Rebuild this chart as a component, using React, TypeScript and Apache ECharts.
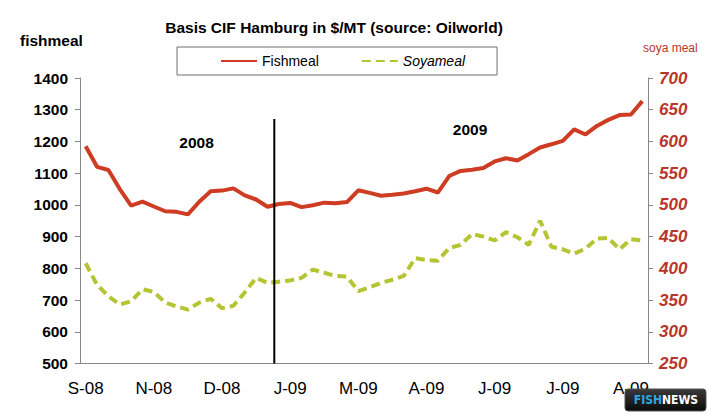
import React, { useEffect, useRef } from 'react';
import * as echarts from 'echarts';

const tickLabels = ['S-08', 'N-08', 'D-08', 'J-09', 'M-09', 'A-09', 'J-09', 'J-09', 'A-09'];

const fishmeal = [
  1185, 1120, 1110, 1050, 998, 1010, 995, 980, 978, 970,
  1010, 1043, 1045, 1052, 1030, 1017, 994, 1003, 1006, 993,
  999, 1007, 1005, 1009, 1046, 1038, 1029, 1032, 1036, 1043,
  1051, 1039, 1091, 1107, 1111, 1116, 1137, 1147, 1140, 1160,
  1181, 1191, 1202, 1238, 1222, 1249, 1268, 1283, 1285, 1327,
];

const soyameal = [
  408, 374, 356, 343, 348, 367, 363, 346, 340, 335,
  346, 352, 337, 341, 362, 385, 377, 379, 381, 385,
  398, 393, 388, 387, 364, 370, 377, 382, 388, 416,
  413, 412, 432, 437, 454, 450, 444, 457, 449, 437,
  475, 434, 430, 423, 431, 447, 448, 430, 446, 444,
];

const weeks = fishmeal.map((_, i) => `W${i + 1}`);
const TICK_EVERY = 6;

const RED = '#CD3C23';
const AXIS_RED = '#B8352A';
const GREEN = '#B4C432';
const FONT = '"Liberation Sans", Arial, sans-serif';

export default function App() {
  const ref = useRef<HTMLDivElement>(null);

  useEffect(() => {
    const chart = echarts.init(ref.current as HTMLDivElement, null, { renderer: 'svg' });
    chart.setOption({
      animation: false,
      backgroundColor: '#ffffff',
      textStyle: { fontFamily: FONT },
      legend: {
        left: 177,
        top: 47,
        orient: 'horizontal',
        borderColor: '#6e6e6e',
        borderWidth: 1,
        padding: [7, 32, 7, 43],
        itemWidth: 36,
        itemHeight: 14,
        itemGap: 42,
        itemStyle: { opacity: 0 },
        textStyle: { fontSize: 14, color: '#000', fontFamily: FONT },
        data: [
          { name: 'Fishmeal' },
          { name: 'Soyameal', textStyle: { fontStyle: 'italic' } },
        ],
      },
      grid: { left: 80, right: 61, top: 78, bottom: 55.5 },
      xAxis: {
        type: 'category',
        data: weeks,
        boundaryGap: true,
        axisLine: { lineStyle: { color: '#888' } },
        axisTick: { interval: TICK_EVERY - 1, length: 5, lineStyle: { color: '#888' } },
        axisLabel: {
          interval: TICK_EVERY - 1,
          margin: 16,
          fontSize: 17,
          color: '#000',
          fontFamily: FONT,
          formatter: (_v: string, i: number) => tickLabels[i / TICK_EVERY] ?? '',
        },
        splitLine: { show: false },
      },
      yAxis: [
        {
          type: 'value',
          min: 500,
          max: 1400,
          interval: 100,
          position: 'left',
          axisLine: { show: true, lineStyle: { color: '#888' } },
          axisTick: { show: true, length: 5, lineStyle: { color: '#888' } },
          axisLabel: {
            fontSize: 15.5,
            fontWeight: 'bold',
            color: '#000',
            margin: 12,
            fontFamily: FONT,
            formatter: (v: number) => String(v),
          },
          splitLine: { show: false },
        },
        {
          type: 'value',
          min: 250,
          max: 700,
          interval: 50,
          position: 'right',
          axisLine: { show: true, lineStyle: { color: '#888' } },
          axisTick: { show: true, length: 5, lineStyle: { color: '#888' } },
          axisLabel: {
            fontSize: 17,
            fontWeight: 'bold',
            fontStyle: 'italic',
            color: AXIS_RED,
            margin: 11,
            fontFamily: FONT,
            formatter: (v: number) => String(v),
          },
          splitLine: { show: false },
        },
      ],
      series: [
        {
          name: 'Fishmeal',
          type: 'line',
          data: fishmeal,
          yAxisIndex: 0,
          symbol: 'none',
          lineStyle: { color: RED, width: 4 },
          itemStyle: { color: RED },
          z: 3,
        },
        {
          name: 'Soyameal',
          type: 'line',
          data: soyameal,
          yAxisIndex: 1,
          symbol: 'none',
          lineStyle: { color: GREEN, width: 4, type: [9, 5] },
          itemStyle: { color: GREEN },
          z: 2,
        },
      ],
      graphic: [
        {
          type: 'text',
          x: 334,
          y: 27,
          style: {
            text: 'Basis CIF Hamburg in $/MT (source: Oilworld)',
            font: `bold 15.5px ${FONT}`,
            fill: '#000',
            textAlign: 'center',
            textVerticalAlign: 'middle',
          },
        },
        {
          type: 'text',
          x: 20,
          y: 40,
          style: {
            text: 'fishmeal',
            font: `bold 15.5px ${FONT}`,
            fill: '#000',
            textAlign: 'left',
            textVerticalAlign: 'middle',
          },
        },
        {
          type: 'text',
          x: 643,
          y: 48,
          style: {
            text: 'soya meal',
            font: `12px ${FONT}`,
            fill: AXIS_RED,
            textAlign: 'left',
            textVerticalAlign: 'middle',
          },
        },
        {
          type: 'text',
          x: 196.5,
          y: 142,
          style: {
            text: '2008',
            font: `bold 15.5px ${FONT}`,
            fill: '#000',
            textAlign: 'center',
            textVerticalAlign: 'middle',
          },
        },
        {
          type: 'text',
          x: 470,
          y: 129.5,
          style: {
            text: '2009',
            font: `bold 15.5px ${FONT}`,
            fill: '#000',
            textAlign: 'center',
            textVerticalAlign: 'middle',
          },
        },
        {
          type: 'line',
          z: 100,
          shape: { x1: 274.3, y1: 119, x2: 274.3, y2: 363.5 },
          style: { stroke: '#000', lineWidth: 2 },
        },
        {
          type: 'rect',
          z: 100,
          shape: { x: 625, y: 389, width: 81, height: 22, r: 3 },
          style: {
            fill: new echarts.graphic.LinearGradient(0, 0, 0, 1, [
              { offset: 0, color: '#3a3a3a' },
              { offset: 1, color: '#0a0a0a' },
            ]),
            stroke: '#555',
            lineWidth: 1,
          },
        },
        {
          type: 'text',
          z: 101,
          x: 662,
          y: 400,
          style: {
            text: 'FISH',
            font: `bold 12px "DejaVu Sans Condensed", ${FONT}`,
            fill: '#2BA9E1',
            textAlign: 'right',
            textVerticalAlign: 'middle',
          },
        },
        {
          type: 'text',
          z: 101,
          x: 662,
          y: 400,
          style: {
            text: 'NEWS',
            font: `bold 12px "DejaVu Sans Condensed", ${FONT}`,
            fill: '#ffffff',
            textAlign: 'left',
            textVerticalAlign: 'middle',
          },
        },
      ],
    });
    return () => chart.dispose();
  }, []);

  return (
    <div
      ref={ref}
      style={{ position: 'fixed', left: 0, top: 0, width: 709, height: 419, background: '#fff' }}
    />
  );
}
